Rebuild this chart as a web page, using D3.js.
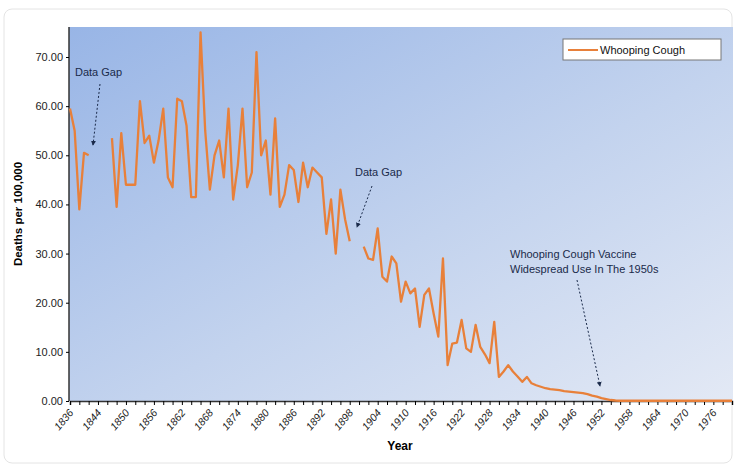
<!DOCTYPE html>
<html><head><meta charset="utf-8">
<script src="https://cdn.jsdelivr.net/npm/d3@7"></script>
<style>body{margin:0;background:#fff}svg{font-family:"Liberation Sans",Arial,sans-serif}</style>
</head><body><svg id="c" width="736" height="467"></svg>
<script>
const seriesName = "Whooping Cough";
const seg1Years = [1836,1837,1838,1839,1840];
const seg1Values = [59.5,55,39,50.5,50];
const seg2Years = d3.range(1845,1897);
const seg2Values = [53.5,39.5,54.5,44,44,44,61,52.5,54,48.5,53,59.5,45.5,43.5,61.5,61,56,41.5,41.5,75,55,43,50,53,45.5,59.5,41,48,59.5,43.5,46.5,71,50,53,42,57.5,39.5,42,48,47,40.5,48.5,43.5,47.5,46.5,45.5,34,41,30,43,37,32.5];
const seg3Years = d3.range(1899,1979);
const seg3Values = [31.4,29,28.7,35.1,25.3,24.3,29.4,28,20.2,24.3,21.9,22.9,15.1,21.6,22.9,17.8,13.1,29,7.3,11.7,11.9,16.5,10.7,10,15.5,11,9.5,7.7,16.1,4.9,6,7.3,6,5,3.9,4.9,3.6,3.2,2.9,2.6,2.4,2.3,2.2,2.0,1.9,1.8,1.7,1.6,1.4,1.1,0.9,0.6,0.4,0.2,0.1,0.05,0.05,0.05,0.05,0.05,0.05,0.05,0.05,0.05,0.05,0.05,0.05,0.05,0.05,0.05,0.05,0.05,0.05,0.05,0.05,0.05,0.05,0.05,0.05,0.05];
const yTicks = [0,10,20,30,40,50,60,70];
const xLabelYears = [1836,1842,1848,1854,1860,1866,1872,1878,1884,1890,1896,1902,1908,1914,1920,1926,1932,1938,1944,1950,1956,1962,1968,1974];
const xLabels = ["1836","1844","1850","1856","1862","1868","1874","1880","1886","1892","1898","1904","1910","1916","1922","1928","1934","1940","1946","1952","1958","1964","1970","1976"];

const svg = d3.select("#c");
const L=69,R=733,T=27,B=401;
const x = d3.scaleLinear().domain([1836,1978]).range([70,732]);
const y = d3.scaleLinear().domain([0,70]).range([B,57]);

svg.append("rect").attr("x",4).attr("y",9).attr("width",728).attr("height",454).attr("rx",8)
  .attr("fill","#fff").attr("stroke","#e4e4e4");
const defs = svg.append("defs");
const g = defs.append("linearGradient").attr("id","bg").attr("x1","0").attr("y1","0").attr("x2","1").attr("y2","1");
g.append("stop").attr("offset","0").attr("stop-color","#98b5e6");
g.append("stop").attr("offset","0.55").attr("stop-color","#c3d3ee");
g.append("stop").attr("offset","1").attr("stop-color","#e3e9f5");
defs.append("marker").attr("id","ah").attr("viewBox","0 0 6 6").attr("refX",5).attr("refY",3)
  .attr("markerWidth",5).attr("markerHeight",5).attr("orient","auto")
  .append("path").attr("d","M0,0L6,3L0,6z").attr("fill","#1a2a4a");
svg.append("rect").attr("x",L).attr("y",T).attr("width",R-L).attr("height",B-T).attr("fill","url(#bg)");

// y axis
const ya = svg.append("g").attr("transform",`translate(${L},0)`)
  .call(d3.axisLeft(y).tickValues(yTicks).tickFormat(d3.format(".2f")).tickSize(3));
ya.select(".domain").attr("d",`M0,${T}V${B}`).attr("stroke","#333").attr("stroke-width",1.5);
ya.selectAll("text").attr("font-size",11).attr("fill","#222");
// x axis
const xa = svg.append("g").attr("transform",`translate(0,${B})`)
  .call(d3.axisBottom(x).tickValues(d3.range(1836,1979,2)).tickFormat("").tickSize(4));
xa.select(".domain").attr("stroke","#333").attr("stroke-width",1.5);
svg.append("g").selectAll("text").data(xLabelYears).join("text")
  .attr("transform",(d,i)=>`translate(${x(d)+4},${B+12}) rotate(-50)`)
  .attr("text-anchor","end").attr("font-size",10.5).attr("fill","#222").attr("font-style","italic")
  .text((d,i)=>xLabels[i]);

svg.append("text").attr("x",400).attr("y",450).attr("text-anchor","middle").attr("font-weight","bold").attr("font-size",12).text("Year");
svg.append("text").attr("transform","translate(22,214) rotate(-90)").attr("text-anchor","middle").attr("font-weight","bold").attr("font-size",11.5).text("Deaths per 100,000");

const line = d3.line().x(d=>x(d[0])).y(d=>y(d[1]));
[[seg1Years,seg1Values],[seg2Years,seg2Values],[seg3Years,seg3Values]].forEach(([ys,vs])=>{
  svg.append("path").datum(ys.map((yr,i)=>[yr,vs[i]])).attr("d",line)
    .attr("fill","none").attr("stroke","#e8803a").attr("stroke-width",2.3).attr("stroke-linejoin","round");
});

// legend
svg.append("rect").attr("x",563).attr("y",39).attr("width",158).attr("height",21).attr("fill","#fff").attr("stroke","#777");
svg.append("line").attr("x1",568).attr("x2",598).attr("y1",50).attr("y2",50).attr("stroke","#e8803a").attr("stroke-width",2);
svg.append("text").attr("x",600).attr("y",54).attr("font-size",11).attr("fill","#111").text(seriesName);

// annotations
const ann = svg.append("g").attr("fill","#1a2a4a").attr("font-size",11);
ann.append("text").attr("x",75).attr("y",76).text("Data Gap");
ann.append("text").attr("x",355).attr("y",176).text("Data Gap");
ann.append("text").attr("x",510).attr("y",258).text("Whooping Cough Vaccine");
ann.append("text").attr("x",510).attr("y",273).text("Widespread Use In The 1950s");
[[100,84,93,145],[372,186,357,227],[577,280,600,386]].forEach(a=>{
  svg.append("line").attr("x1",a[0]).attr("y1",a[1]).attr("x2",a[2]).attr("y2",a[3])
    .attr("stroke","#1a2a4a").attr("stroke-width",1).attr("stroke-dasharray","2,2").attr("marker-end","url(#ah)");
});
</script></body></html>
